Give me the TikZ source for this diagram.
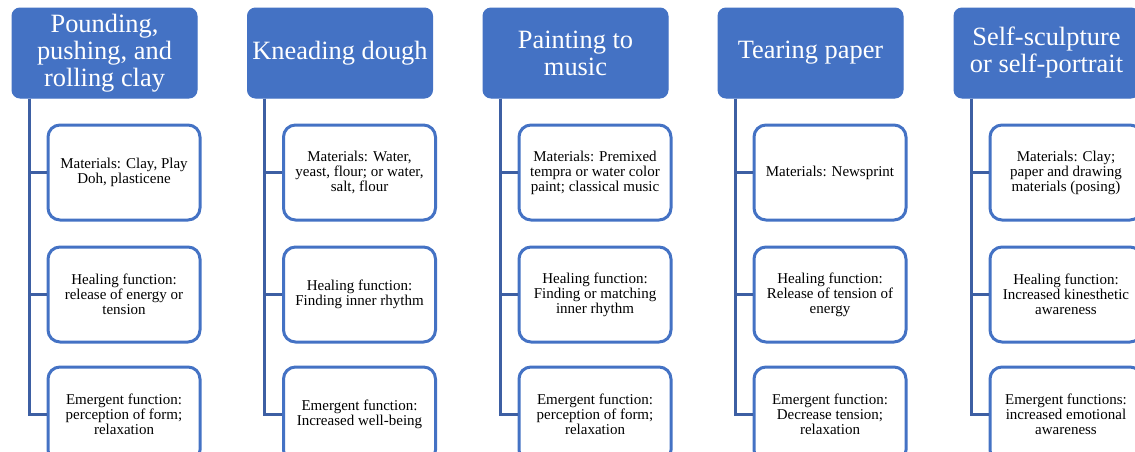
\documentclass[tikz,border=0pt]{standalone}
\usepackage{fontspec}
\setmainfont{Liberation Serif}
\usetikzlibrary{positioning}

\definecolor{ofcblue}{HTML}{4472C4}
\definecolor{trunkblue}{HTML}{3D5FA3}

\begin{document}
\begin{tikzpicture}[x=1pt,y=-1pt]
\tikzset{
  headbox/.style={rectangle,rounded corners=8pt,fill=ofcblue,draw=ofcblue,line width=1pt,
    minimum width=185pt,minimum height=90pt,inner sep=2pt,align=center,text=white,
    font=\fontsize{26.4}{27}\selectfont},
  itembox/.style={rectangle,rounded corners=12pt,fill=white,draw=ofcblue,line width=3pt,
    minimum width=152pt,minimum height=95pt,inner sep=2pt,align=center,text=black,
    font=\fontsize{15}{15}\selectfont},
  link/.style={draw=trunkblue,line width=3pt}
}
\useasboundingbox (0,0) rectangle (1135,451);
\clip (0,0) rectangle (1135,451);

% headers
\node[headbox] (h_clay) at (104.5,53) {Pounding,\\pushing, and\\rolling clay};
\node[headbox] (h_dough) at (340,53) {Kneading dough};
\node[headbox] (h_paint) at (575.5,53) {Painting to\\music};
\node[headbox] (h_tear) at (810.5,53) {Tearing paper};
\node[headbox] (h_self) at (1046.5,53) {Self-sculpture\\or self-portrait};

% column 1
\node[itembox,below=25pt of h_clay,xshift=19.5pt] (m_clay) {Materials: Clay, Play\\Doh, plasticene};
\node[itembox,below=24pt of m_clay] (f_clay) {Healing function:\\release of energy or\\tension};
\node[itembox,below=22pt of f_clay] (e_clay) {Emergent function:\\perception of form;\\relaxation};

% column 2
\node[itembox,below=25pt of h_dough,xshift=19.5pt] (m_dough) {Materials: Water,\\yeast, flour; or water,\\salt, flour};
\node[itembox,below=24pt of m_dough] (f_dough) {Healing function:\\Finding inner rhythm};
\node[itembox,below=22pt of f_dough] (e_dough) {Emergent function:\\Increased well-being};

% column 3
\node[itembox,below=25pt of h_paint,xshift=19.5pt] (m_paint) {Materials: Premixed\\tempra or water color\\paint; classical music};
\node[itembox,below=24pt of m_paint] (f_paint) {Healing function:\\Finding or matching\\inner rhythm};
\node[itembox,below=22pt of f_paint] (e_paint) {Emergent function:\\perception of form;\\relaxation};

% column 4
\node[itembox,below=25pt of h_tear,xshift=19.5pt] (m_tear) {Materials: Newsprint};
\node[itembox,below=24pt of m_tear] (f_tear) {Healing function:\\Release of tension of\\energy};
\node[itembox,below=22pt of f_tear] (e_tear) {Emergent function:\\Decrease tension;\\relaxation};

% column 5
\node[itembox,below=25pt of h_self,xshift=19.5pt] (m_self) {Materials: Clay;\\paper and drawing\\materials (posing)};
\node[itembox,below=24pt of m_self] (f_self) {Healing function:\\Increased kinesthetic\\awareness};
\node[itembox,below=22pt of f_self] (e_self) {Emergent functions:\\increased emotional\\awareness};

% trunks
\coordinate (t_clay) at ([xshift=17.5pt]h_clay.south west);
\coordinate (t_dough) at ([xshift=17.5pt]h_dough.south west);
\coordinate (t_paint) at ([xshift=17.5pt]h_paint.south west);
\coordinate (t_tear) at ([xshift=17.5pt]h_tear.south west);
\coordinate (t_self) at ([xshift=17.5pt]h_self.south west);

\draw[link] (t_clay) |- (m_clay.west);
\draw[link] (t_clay) |- (f_clay.west);
\draw[link] (t_clay) |- (e_clay.west);
\draw[link] (t_dough) |- (m_dough.west);
\draw[link] (t_dough) |- (f_dough.west);
\draw[link] (t_dough) |- (e_dough.west);
\draw[link] (t_paint) |- (m_paint.west);
\draw[link] (t_paint) |- (f_paint.west);
\draw[link] (t_paint) |- (e_paint.west);
\draw[link] (t_tear) |- (m_tear.west);
\draw[link] (t_tear) |- (f_tear.west);
\draw[link] (t_tear) |- (e_tear.west);
\draw[link] (t_self) |- (m_self.west);
\draw[link] (t_self) |- (f_self.west);
\draw[link] (t_self) |- (e_self.west);
\end{tikzpicture}
\end{document}
